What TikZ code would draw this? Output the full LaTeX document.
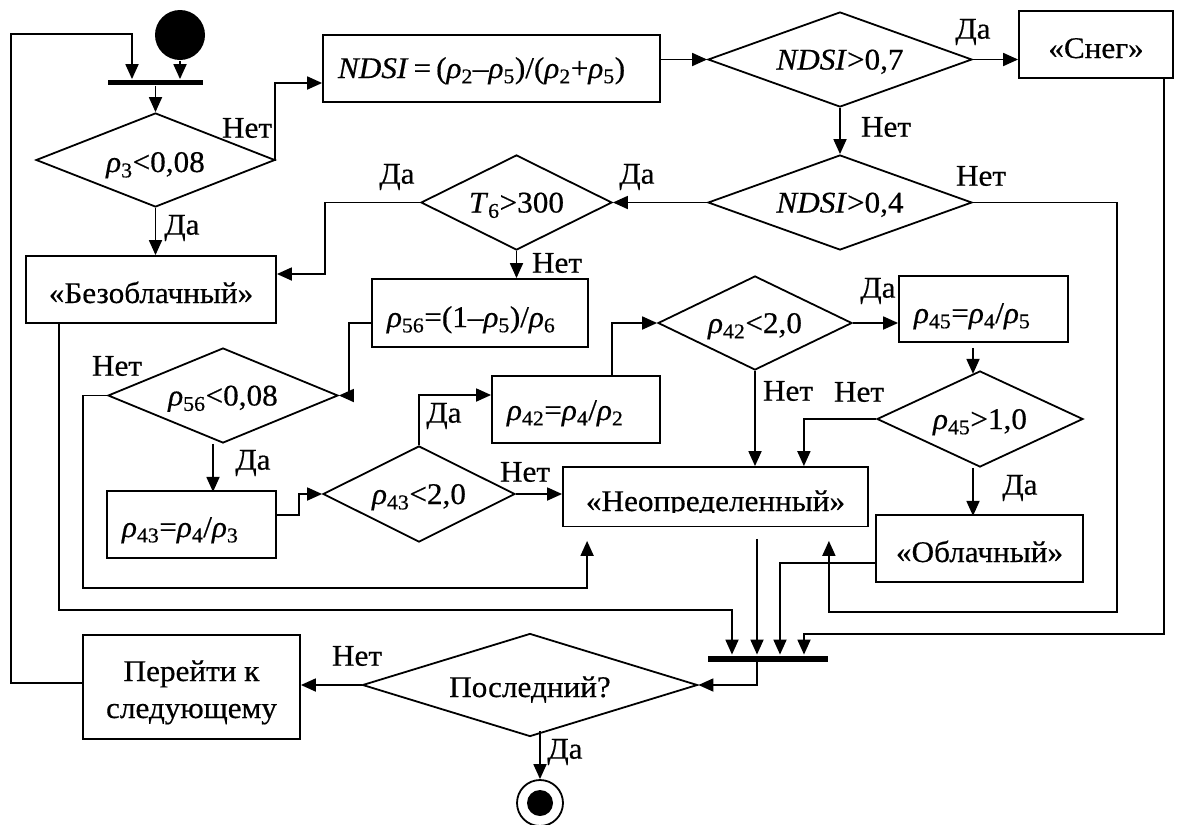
\documentclass[tikz,border=0pt]{standalone}
\usepackage{fontspec}
\setmainfont{Liberation Serif}[FakeStretch=1.04,FakeBold=0.5]
\usetikzlibrary{shapes.geometric,arrows.meta,calc}
\newcommand{\rh}[1]{\textit{ρ}\textsubscript{#1}}
\begin{document}
\begin{tikzpicture}[x=1pt,y=-1pt,
  font=\fontsize{30}{34}\selectfont,
  line width=1.8pt,
  every node/.style={inner sep=0pt},
  box/.style={draw, rectangle, align=center, text height=27pt, text depth=0pt},
  lbox/.style={draw, rectangle, align=left, inner xsep=15pt, text depth=0pt},
  dec/.style={draw, diamond, text height=20pt, text depth=0pt},
  lbl/.style={},
  arr/.style={-{Triangle[length=15pt,width=13pt]}},
  syncbar/.style={fill=black, rectangle},
]
\useasboundingbox (0,0) rectangle (1179,825);

% start, top synchronisation bar
\node[circle, fill=black, minimum size=50pt] (start) at (180,35) {};
\node[syncbar, minimum width=95pt, minimum height=5pt] (bar1) at (155.5,82.5) {};

% decisions
\node[dec, minimum width=239pt, minimum height=94pt, shape aspect=2.5, text height=24pt] (d1) at (155.5,160) {\rh{3}<0,08};
\node[dec, minimum width=264pt, minimum height=95pt, shape aspect=2.7] (d2) at (840,59.5) {\textit{NDSI}>0,7};
\node[dec, minimum width=264pt, minimum height=95pt, shape aspect=2.7] (d3) at (840,202.5) {\textit{NDSI}>0,4};
\node[dec, minimum width=191pt, minimum height=95pt, shape aspect=2] (d4) at (516.5,202.5) {\textit{T}\textsubscript{6}>300};
\node[dec, minimum width=230pt, minimum height=95pt, shape aspect=2.4] (d5) at (223,395.5) {\rh{56}<0,08};
\node[dec, minimum width=192pt, minimum height=96pt, shape aspect=2] (d6) at (419,494) {\rh{43}<2,0};
\node[dec, minimum width=194pt, minimum height=94pt, shape aspect=2] (d7) at (755,323) {\rh{42}<2,0};
\node[dec, minimum width=206pt, minimum height=96pt, shape aspect=2.1] (d8) at (980,419) {\rh{45}>1,0};
\node[dec, minimum width=335pt, minimum height=103pt, shape aspect=3.2, text height=24pt] (dl) at (530,685) {Последний?};

% action boxes
\node[lbox, text width=307pt, minimum height=67pt, text height=19pt] (ndsi) at (491.5,68.5)
  {\textit{NDSI}\,=\,(\rh{2}–\rh{5})/(\rh{2}+\rh{5})};
\node[box, minimum width=154pt, minimum height=67pt] (sneg) at (1096,44.5) {«Снег»};
\node[box, minimum width=250pt, minimum height=67pt] (bez) at (151,289.5) {«Безоблачный»};
\node[lbox, text width=186pt, minimum height=68pt, text height=28pt] (r56) at (480,313) {\rh{56}=(1–\rh{5})/\rh{6}};
\node[lbox, text width=139pt, minimum height=67pt, text height=25pt] (r43) at (191.5,524.5) {\rh{43}=\rh{4}/\rh{3}};
\node[lbox, text width=138pt, minimum height=67pt, text height=21pt] (r42) at (576,409.5) {\rh{42}=\rh{4}/\rh{2}};
\node[lbox, text width=139pt, minimum height=66pt, text height=28pt] (r45) at (983.5,309) {\rh{45}=\rh{4}/\rh{5}};
\node[box, minimum width=305pt, minimum height=59pt, text height=29pt] (neop) at (715.5,496.5) {«Неопределенный»};
\fill[white] ($(neop.south west)+(1.5,-14)$) rectangle ($(neop.south east)+(-1.5,-1.2)$);
\node[box, minimum width=207pt, minimum height=67pt] (obl) at (979.5,548.5) {«Облачный»};
\node[draw, rectangle, minimum width=217pt, minimum height=104pt, text height=62pt, text depth=0pt,
  font=\fontsize{30}{37}\selectfont] (next) at (191.5,687)
  {\begin{tabular}[b]{@{}c@{}}Перейти к\\следующему\end{tabular}};

% bottom synchronisation bar and final state
\node[syncbar, minimum width=120pt, minimum height=6pt] (bar2) at (768,658.5) {};
\node[circle, draw, minimum size=46pt] (end) at (540,803) {};
\node[circle, fill=black, minimum size=26pt] (endin) at (end.center) {};

% flows
\draw[arr] (start.south) -- ($(bar1.north)+(24.5,0)$);
\draw[arr] ($(next.west)+(0,-4)$) -- ++(-71,0) |- ($(bar1.north)+(-23.5,-45)$) -- ($(bar1.north)+(-23.5,0)$);
\draw[arr] (bar1.south) -- (d1.north);
\draw[arr] (d1.east) -| ($(ndsi.west)+(-47,14.5)$) -- ($(ndsi.west)+(0,14.5)$);
\draw[arr] (d1.south) -- (d1.south |- bez.north);
\draw[arr] (d2.west -| ndsi.east) -- (d2.west);
\draw[arr] (d2.east) -- (d2.east -| sneg.west);
\draw[arr] (d2.south) -- (d3.north);
\draw[arr] (d3.west) -- (d4.east);
\draw[arr] (d3.east) -- ++(144,0) |- ($(neop.south east)+(-40,85)$) -- ($(neop.south east)+(-40,14)$);
\draw[arr] (d4.west) -| ($(bez.east)+(48,-15.5)$) -- ($(bez.east)+(0,-15.5)$);
\draw[arr] (d4.south) -- (d4.south |- r56.north);
\draw[arr] ($(r56.west)+(0,10)$) -| ($(d5.east)+(10,0)$) -- (d5.east);
\draw[arr] (d5.west) -- ++(-24,0) |- ($(neop.south west)+(25,61)$) -- ($(neop.south west)+(25,14)$);
\draw[arr] ($(d5.south)+(-10,0)$) -- ++(0,48);
\draw[arr] ($(r43.east)+(0,-9.5)$) -| ($(d6.west)+(-23,0)$) -- (d6.west);
\draw[arr] (d6.north) |- ($(r42.west)+(0,-14.5)$);
\draw[arr] (d6.east) -- (d6.east -| neop.west);
\draw[arr] ($(r42.north)+(36,0)$) |- (d7.west);
\draw[arr] (d7.east) -- (d7.east -| r45.west);
\draw[arr] (d7.south) -- (d7.south |- neop.north);
\draw[arr] ($(r45.south)+(-10.5,5)$) -- ++(0,26);
\draw[arr] (d8.west) -| ($(neop.north east)+(-65,0)$);
\draw[arr] ($(d8.south)+(-7,0)$) -- ++(0,48);
\draw[arr] ($(bez.south)+(-92,0)$) |- ($(bar2.north)+(-36,-44.5)$) -- ($(bar2.north)+(-36,0)$);
\draw[arr] ($(neop.south)+(41.5,12)$) -- ($(bar2.north)+(-11,0)$);
\draw[arr] ($(obl.west)+(0,14.5)$) -| ($(bar2.north)+(12,0)$);
\draw[arr] ($(sneg.south)+(68,0)$) |- ($(bar2.north)+(36,-20.5)$) -- ($(bar2.north)+(36,0)$);
\draw[arr] ($(bar2.south)+(-11,0)$) |- (dl.east);
\draw[arr] (dl.west) -- (next.east |- dl.west);
\draw[arr] ($(dl.south)+(10,-6)$) -- (end.north);

% branch labels
\node[lbl] (l1) at (247,128) {Нет};
\node[lbl] (l2) at (182,228) {Да};
\node[lbl] (l3) at (973,32) {Да};
\node[lbl] (l4) at (886,127) {Нет};
\node[lbl] (l5) at (981,176) {Нет};
\node[lbl] (l6) at (637,177) {Да};
\node[lbl] (l7) at (397,177) {Да};
\node[lbl] (l8) at (557,263) {Нет};
\node[lbl] (l9) at (117,366) {Нет};
\node[lbl] (l10) at (253,463) {Да};
\node[lbl] (l11) at (444,416) {Да};
\node[lbl] (l12) at (525,472) {Нет};
\node[lbl] (l13) at (878,291) {Да};
\node[lbl] (l14) at (788,391) {Нет};
\node[lbl] (l15) at (859,392) {Нет};
\node[lbl] (l16) at (1020,488) {Да};
\node[lbl] (l17) at (357,656) {Нет};
\node[lbl] (l18) at (565,752) {Да};
\end{tikzpicture}
\end{document}
